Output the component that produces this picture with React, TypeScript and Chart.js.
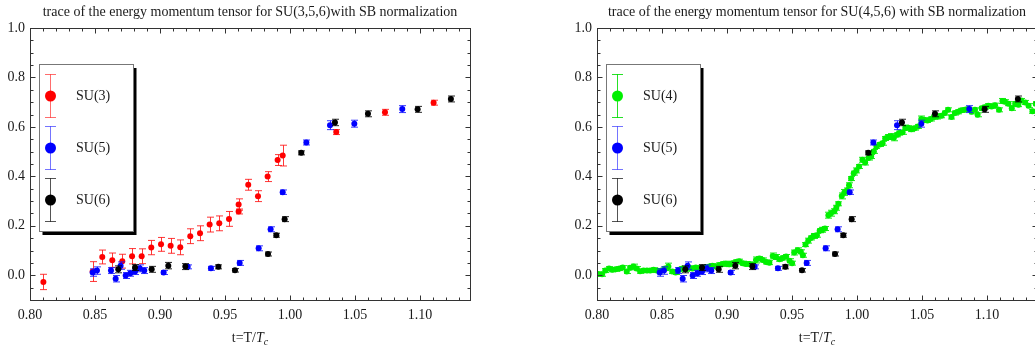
import React, { useEffect, useRef } from 'react';
import { Chart, registerables } from 'chart.js';

Chart.register(...registerables);

const FONT = "'Liberation Serif', 'Times New Roman', serif";

const X_MIN = 0.8;
const X_MAX = 1.1385;
const Y_MIN = -0.1;
const Y_MAX = 1.0;

const TITLE_LEFT = 'trace of the energy momentum tensor for SU(3,5,6)with SB normalization';
const TITLE_RIGHT = 'trace of the energy momentum tensor for SU(4,5,6) with SB normalization';

// SU(3)
const SU3_T = [0.8103, 0.8482, 0.8556, 0.8633, 0.8710, 0.8785, 0.8859, 0.8933, 0.9008, 0.9082, 0.9156, 0.9233, 0.9308, 0.9382, 0.9456, 0.9531, 0.9605, 0.9605, 0.9679, 0.9754, 0.9828, 0.9905, 0.9944, 1.0356, 1.0731, 1.1105];
const SU3_Y = [-0.027, 0.015, 0.074, 0.061, 0.057, 0.077, 0.077, 0.112, 0.125, 0.119, 0.113, 0.158, 0.170, 0.205, 0.210, 0.228, 0.258, 0.286, 0.366, 0.320, 0.399, 0.466, 0.484, 0.579, 0.659, 0.698];
const SU3_E = [0.031, 0.040, 0.028, 0.029, 0.028, 0.031, 0.030, 0.029, 0.028, 0.030, 0.030, 0.030, 0.030, 0.030, 0.030, 0.030, 0.010, 0.023, 0.022, 0.022, 0.020, 0.022, 0.042, 0.010, 0.012, 0.010];

// SU(5)
const SU5_T = [0.8482, 0.8515, 0.8623, 0.8659, 0.8697, 0.8736, 0.8772, 0.8808, 0.8844, 0.8879, 0.9028, 0.9213, 0.9392, 0.9613, 0.9759, 0.9851, 0.9944, 1.0126, 1.0308, 1.0495, 1.0864];
const SU5_Y = [0.011, 0.019, 0.019, -0.014, 0.039, -0.001, 0.008, 0.015, 0.028, 0.019, 0.011, 0.034, 0.028, 0.050, 0.109, 0.186, 0.336, 0.537, 0.607, 0.613, 0.672];
const SU5_E = [0.015, 0.015, 0.012, 0.013, 0.015, 0.012, 0.012, 0.012, 0.014, 0.012, 0.008, 0.008, 0.008, 0.010, 0.010, 0.010, 0.009, 0.010, 0.018, 0.014, 0.014];

// SU(6)
const SU6_T = [0.8679, 0.8808, 0.8936, 0.9064, 0.9195, 0.9449, 0.9577, 0.9831, 0.9895, 0.9959, 1.0087, 1.0346, 1.0600, 1.0982, 1.1238];
const SU6_Y = [0.024, 0.031, 0.024, 0.039, 0.035, 0.034, 0.020, 0.086, 0.162, 0.227, 0.495, 0.618, 0.653, 0.671, 0.713];
const SU6_E = [0.014, 0.012, 0.012, 0.013, 0.012, 0.008, 0.007, 0.008, 0.008, 0.010, 0.008, 0.013, 0.012, 0.012, 0.012];

// SU(4)
const SU4_T = [
  0.8008, 0.8039, 0.8064, 0.8093, 0.8118, 0.8144, 0.8173, 0.8198, 0.8229, 0.8255,
  0.8281, 0.8306, 0.8332, 0.8358, 0.8384, 0.8409, 0.8435, 0.8461, 0.8497, 0.8523,
  0.8549, 0.8579, 0.8605, 0.8631, 0.8657, 0.8682, 0.8708, 0.8734, 0.8760, 0.8785,
  0.8811, 0.8837, 0.8863, 0.8888, 0.8914, 0.8940, 0.8966, 0.8991, 0.9017, 0.9043,
  0.9069, 0.9094, 0.9120, 0.9146, 0.9172, 0.9198, 0.9223, 0.9249, 0.9275, 0.9301,
  0.9326, 0.9352, 0.9378, 0.9404, 0.9429, 0.9455, 0.9481, 0.9501, 0.9517, 0.9543,
  0.9568, 0.9584, 0.9604, 0.9625, 0.9646, 0.9666, 0.9692, 0.9713, 0.9733, 0.9754,
  0.9780, 0.9800, 0.9826, 0.9841, 0.9857, 0.9883, 0.9903, 0.9924, 0.9939, 0.9955,
  0.9975, 0.9996, 1.0016, 1.0042, 1.0063, 1.0089, 1.0109, 1.0130, 1.0150, 1.0176,
  1.0197, 1.0217, 1.0238, 1.0264, 1.0284, 1.0310, 1.0326, 1.0351, 1.0372, 1.0392,
  1.0418, 1.0444, 1.0470, 1.0495, 1.0516, 1.0542, 1.0568, 1.0593, 1.0619, 1.0650,
  1.0676, 1.0701, 1.0727, 1.0753, 1.0779, 1.0804, 1.0830, 1.0856, 1.0882, 1.0908,
  1.0928, 1.0959, 1.0985, 1.1011, 1.1036, 1.1062, 1.1093, 1.1119, 1.1139, 1.1165,
  1.1191, 1.1217, 1.1242, 1.1263, 1.1294, 1.1320, 1.1350, 1.1376,
];
const SU4_Y = [
  0.005, 0.004, 0.019, 0.027, 0.022, 0.024, 0.027, 0.031, 0.015, 0.030,
  0.035, 0.027, 0.016, 0.019, 0.019, 0.019, 0.022, 0.019, 0.019, 0.027,
  0.035, 0.015, 0.011, 0.022, 0.027, 0.024, 0.030, 0.027, 0.031, 0.030,
  0.027, 0.032, 0.035, 0.039, 0.035, 0.042, 0.046, 0.047, 0.045, 0.049,
  0.054, 0.057, 0.049, 0.046, 0.046, 0.043, 0.062, 0.068, 0.062, 0.054,
  0.051, 0.078, 0.074, 0.065, 0.070, 0.076, 0.059, 0.049, 0.092, 0.101,
  0.095, 0.081, 0.124, 0.140, 0.151, 0.159, 0.162, 0.180, 0.184, 0.189,
  0.243, 0.251, 0.259, 0.273, 0.289, 0.321, 0.335, 0.343, 0.364, 0.391,
  0.413, 0.424, 0.440, 0.467, 0.456, 0.474, 0.480, 0.501, 0.521, 0.529,
  0.534, 0.553, 0.559, 0.561, 0.556, 0.568, 0.575, 0.578, 0.597, 0.597,
  0.591, 0.595, 0.602, 0.632, 0.629, 0.626, 0.632, 0.640, 0.642, 0.645,
  0.656, 0.669, 0.640, 0.656, 0.661, 0.667, 0.669, 0.672, 0.661, 0.669,
  0.649, 0.675, 0.680, 0.686, 0.683, 0.688, 0.669, 0.705, 0.702, 0.694,
  0.675, 0.694, 0.690, 0.707, 0.699, 0.686, 0.663, 0.694,
];
const SU4_E = [
  0.008, 0.008, 0.008, 0.008, 0.008, 0.008, 0.008, 0.008, 0.008, 0.008,
  0.010, 0.008, 0.008, 0.008, 0.008, 0.008, 0.008, 0.008, 0.008, 0.008,
  0.014, 0.008, 0.008, 0.008, 0.008, 0.008, 0.008, 0.008, 0.008, 0.008,
  0.008, 0.008, 0.008, 0.008, 0.008, 0.008, 0.008, 0.010, 0.010, 0.008,
  0.008, 0.008, 0.008, 0.008, 0.008, 0.008, 0.012, 0.008, 0.008, 0.008,
  0.008, 0.012, 0.010, 0.008, 0.008, 0.008, 0.008, 0.008, 0.010, 0.010,
  0.008, 0.008, 0.008, 0.010, 0.008, 0.010, 0.008, 0.008, 0.010, 0.008,
  0.012, 0.012, 0.010, 0.010, 0.008, 0.012, 0.012, 0.010, 0.010, 0.008,
  0.008, 0.010, 0.008, 0.010, 0.010, 0.008, 0.008, 0.008, 0.008, 0.008,
  0.008, 0.008, 0.010, 0.012, 0.012, 0.008, 0.008, 0.008, 0.010, 0.008,
  0.010, 0.008, 0.008, 0.012, 0.008, 0.008, 0.008, 0.008, 0.010, 0.008,
  0.008, 0.008, 0.008, 0.008, 0.008, 0.008, 0.008, 0.008, 0.008, 0.008,
  0.008, 0.008, 0.008, 0.008, 0.008, 0.008, 0.008, 0.010, 0.008, 0.008,
  0.008, 0.008, 0.008, 0.008, 0.008, 0.008, 0.008, 0.008,
];

type Series = {
  label: string;
  t: number[];
  y: number[];
  e: number[];
  color: string;
  bar: string;
  legendBar: string;
  order: number;
  rank: number;
};

const S3: Series = { label: 'SU(3)', t: SU3_T, y: SU3_Y, e: SU3_E, color: '#ff0000', bar: 'rgba(255,20,20,0.85)', legendBar: 'rgba(255,60,60,0.75)', order: 3, rank: 0 };
const S4: Series = { label: 'SU(4)', t: SU4_T, y: SU4_Y, e: SU4_E, color: 'rgb(0,240,0)', bar: 'rgba(0,230,0,0.9)', legendBar: 'rgba(0,220,0,0.85)', order: 4, rank: 1 };
const S5: Series = { label: 'SU(5)', t: SU5_T, y: SU5_Y, e: SU5_E, color: '#0000ff', bar: 'rgba(20,20,255,0.85)', legendBar: 'rgba(70,70,255,0.75)', order: 2, rank: 2 };
const S6: Series = { label: 'SU(6)', t: SU6_T, y: SU6_Y, e: SU6_E, color: '#000000', bar: 'rgba(0,0,0,0.85)', legendBar: 'rgba(40,40,40,0.8)', order: 1, rank: 3 };

function makeDecor(title: string, series: Series[]) {
  return {
    id: 'decor',
    beforeDatasetDraw(chart: any, args: any) {
      const ds = chart.data.datasets[args.index];
      const errs: number[] = ds.errors;
      if (!errs) return;
      const ys = chart.scales.y;
      const ca = chart.chartArea;
      const ctx = chart.ctx;
      ctx.save();
      ctx.beginPath();
      ctx.rect(ca.left, ca.top, ca.right - ca.left, ca.bottom - ca.top);
      ctx.clip();
      ctx.strokeStyle = ds.barColor;
      ctx.lineWidth = 1;
      args.meta.data.forEach((el: any, i: number) => {
        const v = ds.data[i].y;
        const e = errs[i];
        const x = Math.round(el.x) + 0.5;
        const y1 = ys.getPixelForValue(v + e);
        const y2 = ys.getPixelForValue(v - e);
        const cw = 3.5;
        ctx.beginPath();
        ctx.moveTo(x, y1);
        ctx.lineTo(x, y2);
        ctx.moveTo(x - cw, y1);
        ctx.lineTo(x + cw, y1);
        ctx.moveTo(x - cw, y2);
        ctx.lineTo(x + cw, y2);
        ctx.stroke();
      });
      ctx.restore();
    },
    afterDraw(chart: any) {
      const ctx = chart.ctx;
      const ca = chart.chartArea;
      const xs = chart.scales.x;
      const ys = chart.scales.y;
      ctx.save();
      // frame
      const L = Math.round(ca.left) + 0.5;
      const R = Math.round(ca.right) + 0.5;
      const T = Math.round(ca.top) + 0.5;
      const B = Math.round(ca.bottom) + 0.5;
      ctx.strokeStyle = '#333';
      ctx.lineWidth = 1;
      ctx.strokeRect(L, T, R - L, B - T);
      // x ticks (major 0.05, minor 0.01)
      ctx.beginPath();
      for (let i = 0; ; i++) {
        const v = X_MIN + i * 0.01;
        if (v > X_MAX + 1e-9) break;
        const len = i % 5 === 0 ? 5 : 3;
        const px = Math.round(xs.getPixelForValue(v)) + 0.5;
        ctx.moveTo(px, B);
        ctx.lineTo(px, B - len);
        ctx.moveTo(px, T);
        ctx.lineTo(px, T + len);
      }
      // y ticks (major 0.2, minor 0.05)
      for (let i = 0; ; i++) {
        const v = Y_MIN + i * 0.05;
        if (v > Y_MAX + 1e-9) break;
        const major = Math.abs(v / 0.2 - Math.round(v / 0.2)) < 1e-6;
        const len = major ? 5 : 3;
        const py = Math.round(ys.getPixelForValue(v)) + 0.5;
        ctx.moveTo(L, py);
        ctx.lineTo(L + len, py);
        ctx.moveTo(R, py);
        ctx.lineTo(R - len, py);
      }
      ctx.stroke();

      // title
      const cx = (ca.left + ca.right) / 2;
      ctx.fillStyle = '#1a1a1a';
      ctx.font = `14px ${FONT}`;
      ctx.textAlign = 'center';
      ctx.textBaseline = 'alphabetic';
      ctx.fillText(title, cx, 16);

      // x-axis title: t=T/T_c
      const p1 = 't=T/';
      const p2 = 'T';
      const p3 = 'c';
      ctx.font = `14px ${FONT}`;
      const w1 = ctx.measureText(p1).width;
      ctx.font = `italic 14px ${FONT}`;
      const w2 = ctx.measureText(p2).width;
      ctx.font = `italic 10px ${FONT}`;
      const w3 = ctx.measureText(p3).width;
      let sx = cx - (w1 + w2 + w3) / 2;
      ctx.textAlign = 'left';
      ctx.font = `14px ${FONT}`;
      ctx.fillText(p1, sx, 342);
      sx += w1;
      ctx.font = `italic 14px ${FONT}`;
      ctx.fillText(p2, sx, 342);
      sx += w2;
      ctx.font = `italic 10px ${FONT}`;
      ctx.fillText(p3, sx, 345);

      // legend
      const bx = Math.round(ca.left) + 9;
      const by = Math.round(ca.top) + 36;
      const bw = 94;
      const bh = 167;
      ctx.fillStyle = '#000';
      ctx.fillRect(bx + 3.5, by + 4, bw, bh);
      ctx.fillStyle = '#fff';
      ctx.fillRect(bx, by, bw, bh);
      ctx.strokeStyle = '#777';
      ctx.strokeRect(bx + 0.5, by + 0.5, bw, bh);
      series.forEach((s, k) => {
        const cy = by + 32 + k * 52;
        const mx = bx + 11.5;
        ctx.strokeStyle = s.legendBar;
        ctx.lineWidth = 1;
        ctx.beginPath();
        ctx.moveTo(mx, cy - 22);
        ctx.lineTo(mx, cy + 22);
        ctx.moveTo(mx - 5.5, cy - 22 + 0.5);
        ctx.lineTo(mx + 5.5, cy - 22 + 0.5);
        ctx.moveTo(mx - 5.5, cy + 22 - 0.5);
        ctx.lineTo(mx + 5.5, cy + 22 - 0.5);
        ctx.stroke();
        ctx.fillStyle = s.color;
        ctx.beginPath();
        ctx.arc(mx, cy, 5.5, 0, Math.PI * 2);
        ctx.fill();
        ctx.fillStyle = '#1a1a1a';
        ctx.font = `14px ${FONT}`;
        ctx.textAlign = 'left';
        ctx.textBaseline = 'middle';
        ctx.fillText(s.label, bx + 37, cy);
      });
      ctx.restore();
    },
  };
}

function buildChart(canvas: HTMLCanvasElement, title: string, series: Series[], yWidth: number, padRight: number) {
  return new Chart(canvas, {
    type: 'scatter',
    data: {
      datasets: series.map((s) => ({
        label: s.label,
        data: s.t.map((t, i) => ({ x: t, y: s.y[i] })),
        errors: s.e,
        barColor: s.bar,
        backgroundColor: s.color,
        borderColor: s.color,
        borderWidth: 0,
        pointRadius: 3,
        pointHoverRadius: 3,
        order: s.order,
      })) as any,
    },
    options: {
      responsive: false,
      animation: false,
      events: [],
      layout: { padding: { top: 28, right: padRight, bottom: 0, left: 0 } },
      plugins: {
        legend: { display: false },
        title: { display: false },
        tooltip: { enabled: false },
      },
      scales: {
        x: {
          type: 'linear',
          min: X_MIN,
          max: X_MAX,
          grid: { display: false, drawTicks: false },
          border: { display: false },
          ticks: {
            stepSize: 0.05,
            includeBounds: false,
            autoSkip: false,
            maxRotation: 0,
            padding: 7,
            color: '#1a1a1a',
            font: { family: FONT, size: 14 },
            callback: (v: any) => Number(v).toFixed(2),
          },
          afterFit: (s: any) => {
            s.height = 49;
          },
        },
        y: {
          type: 'linear',
          min: Y_MIN,
          max: Y_MAX,
          grid: { display: false, drawTicks: false },
          border: { display: false },
          ticks: {
            stepSize: 0.2,
            includeBounds: false,
            autoSkip: false,
            padding: 5,
            color: '#1a1a1a',
            font: { family: FONT, size: 14 },
            callback: (v: any) => Number(v).toFixed(1),
          },
          afterFit: (s: any) => {
            s.width = yWidth;
          },
        },
      },
    },
    plugins: [makeDecor(title, [...series].sort((a, b) => a.rank - b.rank)) as any],
  });
}

export default function App() {
  const leftRef = useRef<HTMLCanvasElement>(null);
  const rightRef = useRef<HTMLCanvasElement>(null);

  useEffect(() => {
    const c1 = buildChart(leftRef.current!, TITLE_LEFT, [S3, S5, S6], 30, 47);
    const c2 = buildChart(rightRef.current!, TITLE_RIGHT, [S4, S5, S6], 80, 20);
    return () => {
      c1.destroy();
      c2.destroy();
    };
  }, []);

  return (
    <div style={{ position: 'absolute', left: 0, top: 0, width: 1035, height: 349, overflow: 'hidden', background: '#fff' }}>
      <canvas ref={leftRef} width={517} height={349} style={{ position: 'absolute', left: 0, top: 0, width: 517, height: 349 }} />
      <canvas ref={rightRef} width={540} height={349} style={{ position: 'absolute', left: 517, top: 0, width: 540, height: 349 }} />
    </div>
  );
}
